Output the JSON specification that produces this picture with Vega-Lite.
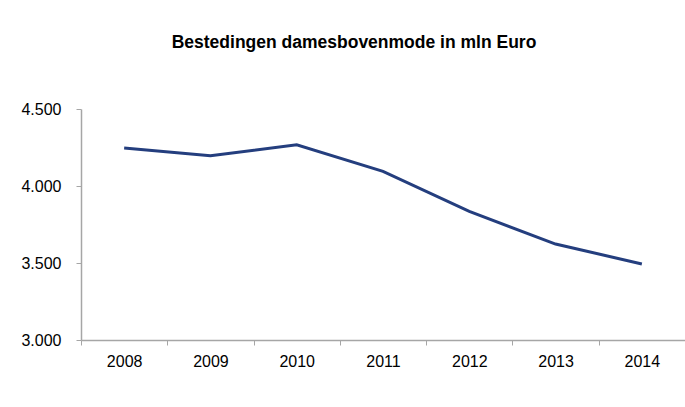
{
  "$schema": "https://vega.github.io/schema/vega-lite/v6.json",
  "autosize": "none",
  "width": 604,
  "height": 231,
  "padding": {"left": 81, "top": 109, "right": 0, "bottom": 67},
  "background": "white",
  "title": {
    "text": "Bestedingen damesbovenmode in mln Euro",
    "font": "Liberation Sans",
    "fontSize": 17.5,
    "fontWeight": "bold",
    "color": "black",
    "anchor": "middle",
    "dx": -29,
    "offset": 50
  },
  "data": {
    "values": [
      {"jaar": "2008", "waarde": 4247},
      {"jaar": "2009", "waarde": 4197},
      {"jaar": "2010", "waarde": 4268},
      {"jaar": "2011", "waarde": 4095},
      {"jaar": "2012", "waarde": 3835},
      {"jaar": "2013", "waarde": 3623},
      {"jaar": "2014", "waarde": 3494}
    ]
  },
  "mark": {"type": "line", "color": "#243E7E", "strokeWidth": 3},
  "encoding": {
    "x": {
      "field": "jaar",
      "type": "ordinal",
      "scale": {"paddingInner": 0, "paddingOuter": 0},
      "axis": {
        "title": null,
        "labelAngle": 0,
        "labelFont": "Liberation Sans",
        "labelFontSize": 16,
        "labelColor": "black",
        "labelPadding": 8,
        "domainColor": "#a6a6a6",
        "domainWidth": 1.5,
        "tickColor": "#a6a6a6",
        "tickSize": 5,
        "tickWidth": 1,
        "tickBand": "extent",
        "grid": false
      }
    },
    "y": {
      "field": "waarde",
      "type": "quantitative",
      "scale": {"domain": [3000, 4500], "nice": false, "zero": false},
      "axis": {
        "title": null,
        "values": [3000, 3500, 4000, 4500],
        "labelExpr": "replace(format(datum.value, ',.0f'), ',', '.')",
        "labelFont": "Liberation Sans",
        "labelFontSize": 16,
        "labelColor": "black",
        "labelPadding": 15,
        "domainColor": "#a6a6a6",
        "domainWidth": 1.5,
        "tickColor": "#a6a6a6",
        "tickSize": 5,
        "grid": false
      }
    }
  },
  "config": {"view": {"stroke": null}}
}
